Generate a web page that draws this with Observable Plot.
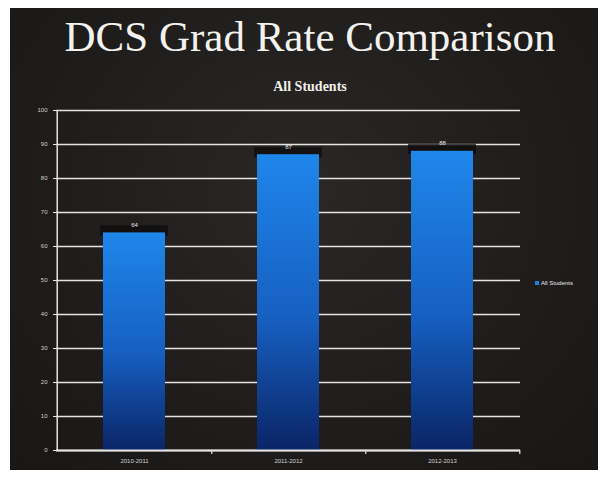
<!DOCTYPE html>
<html>
<head>
<meta charset="utf-8">
<script src="https://cdn.jsdelivr.net/npm/d3@7"></script>
<script src="https://cdn.jsdelivr.net/npm/@observablehq/plot@0.6"></script>
<style>
  html, body { margin: 0; padding: 0; background: #fff; }
  #frame { position: absolute; left: 10px; top: 8px; width: 588px; height: 462px;
    background: radial-gradient(ellipse at 50% 40%, #2a2826 0%, #1f1d1c 60%, #181716 100%); overflow: hidden; }
  #title { position: absolute; left: 0; width: 600px; top: 4px; text-align: center;
    font-family: "Liberation Serif", "DejaVu Serif", serif; font-size: 43px; color: #f4f2ee; }
  #subtitle { position: absolute; left: 0; width: 600px; top: 71px; text-align: center;
    font-family: "Liberation Serif", serif; font-weight: bold; font-size: 14px; color: #f0eee8; }
  #chart { position: absolute; left: 0; top: 92px; }
  #legend { position: absolute; left: 525px; top: 272px; font-family: "Liberation Sans", sans-serif;
    font-size: 6px; color: #e8e8e8; display: flex; align-items: center; gap: 2px; }
  #legend span.sw { width: 4px; height: 4px; background: #1e7fe0; display: inline-block; }
</style>
</head>
<body>
<div id="frame">
  <div id="title">DCS Grad Rate Comparison</div>
  <div id="subtitle">All Students</div>
  <div id="chart"></div>
  <div id="legend"><span class="sw"></span><span>All Students</span></div>
</div>
<script>
const years = ["2010-2011", "2011-2012", "2012-2013"];
const rates = [64, 87, 88];
const yTicks = [0, 10, 20, 30, 40, 50, 60, 70, 80, 90, 100];
const seriesName = "All Students";

const data = years.map((y, i) => ({year: y, rate: rates[i]}));

const chart = Plot.plot({
  width: 588,
  height: 370,
  marginTop: 10,
  marginBottom: 20,
  marginLeft: 46,
  marginRight: 78,
  style: {background: "transparent", color: "#cfcfcf", fontFamily: "Liberation Sans, sans-serif", fontSize: "6px", overflow: "visible"},
  x: {domain: years, paddingInner: 0.6, paddingOuter: 0.3, label: null, tickSize: 0, tickPadding: 6},
  y: {domain: [0, 100], ticks: yTicks, label: null, tickSize: 3, tickPadding: 3, tickFormat: d => d},
  marks: [
    Plot.gridY(yTicks, {stroke: "#e6e4e0", strokeOpacity: 1, strokeWidth: 1.6}),
    Plot.rectY(data, {x: "year", y1: d => d.rate, y2: d => d.rate + 1.2, fill: "#0c0b0b", fillOpacity: 0.75, inset: -3}),
    Plot.barY(data, {x: "year", y: "rate", fill: "url(#barGrad)"}),
    Plot.text(data, {x: "year", y: "rate", text: d => String(d.rate), dy: -8, fill: "#e8e8e8", fontSize: 6}),
    Plot.ruleX([years[0]], {x: d => d, dx: -77.3, y1: 0, y2: 100, stroke: "#e6e4e0", strokeWidth: 1.5}),
    Plot.ruleY([0], {stroke: "#e6e4e0", strokeWidth: 1.8}),
    Plot.ruleX(years, {x: d => d, dx: 77.3, y1: 0, y2: -1.2, stroke: "#e6e4e0", strokeWidth: 1.2}),
    Plot.axisY({ticks: yTicks, tickSize: 3, stroke: "#e6e4e0", fill: "#cfcfcf", fontSize: 6}),
    Plot.axisX({tickSize: 0, fill: "#cfcfcf", fontSize: 6, tickPadding: 8})
  ]
});

const defs = d3.select(chart).insert("defs", ":first-child");
const g = defs.append("linearGradient").attr("id", "barGrad").attr("x1", 0).attr("y1", 0).attr("x2", 0).attr("y2", 1);
g.append("stop").attr("offset", "0%").attr("stop-color", "#1f86ea");
g.append("stop").attr("offset", "55%").attr("stop-color", "#1660c2");
g.append("stop").attr("offset", "100%").attr("stop-color", "#0a2566");

document.getElementById("chart").appendChild(chart);
</script>
</body>
</html>
